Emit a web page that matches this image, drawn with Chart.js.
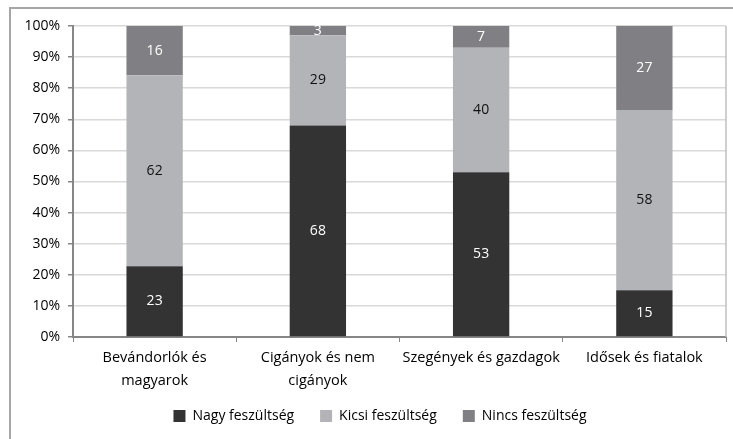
<!DOCTYPE html>
<html>
<head>
<meta charset="utf-8">
<script src="https://cdn.jsdelivr.net/npm/chart.js@4"></script>
<style>
  html, body { margin: 0; padding: 0; background: #fff; }
  #wrap { width: 733px; height: 439px; position: relative; }
</style>
</head>
<body>
<div id="wrap"><canvas id="feszChart"></canvas></div>
<script>
// Categories and values (as printed on the bars)
const categories = [
    ['Bevándorlók és', 'magyarok'],
    ['Cigányok és nem', 'cigányok'],
    'Szegények és gazdagok',
    'Idősek és fiatalok'
];
const nagy = [23, 68, 53, 15];
const kicsi = [62, 29, 40, 58];
const nincs = [16, 3, 7, 27];
const yTicks = [0, 10, 20, 30, 40, 50, 60, 70, 80, 90, 100];

// 100% stacked: each bar is scaled to its own total
const totals = nagy.map((v, i) => v + kicsi[i] + nincs[i]);
const share = arr => arr.map((v, i) => v / totals[i] * 100);

const FONT = '"Open Sans", Lato, sans-serif';

// Outer frame like the spreadsheet chart border, plus right edge of plot area
const framePlugin = {
    id: 'frame',
    afterLayout(chart) {
        // nudge the legend to where it sits in the original
        const lg = chart.legend;
        lg.left += 12;
        lg.right += 12;
        lg.top -= 9;
        lg.bottom -= 9;
    },
    beforeDraw(chart) {
        const ctx = chart.ctx;
        ctx.save();
        ctx.strokeStyle = '#a6a6a6';
        ctx.lineWidth = 2;
        ctx.strokeRect(10, 8, chart.width, chart.height);
        ctx.restore();
    },
    afterDraw(chart) {
        const a = chart.chartArea;
        const ctx = chart.ctx;
        ctx.save();
        ctx.strokeStyle = '#bfbfbf';
        ctx.lineWidth = 1.5;
        ctx.beginPath();
        ctx.moveTo(a.right, a.top);
        ctx.lineTo(a.right, a.bottom);
        ctx.stroke();
        ctx.restore();
    }
};

// Value labels in the middle of each segment
const labelPlugin = {
    id: 'segLabels',
    afterDatasetsDraw(chart) {
        const ctx = chart.ctx;
        ctx.save();
        ctx.font = '14px ' + FONT;
        ctx.textAlign = 'center';
        ctx.textBaseline = 'middle';
        chart.data.datasets.forEach((ds, di) => {
            const meta = chart.getDatasetMeta(di);
            meta.data.forEach((bar, i) => {
                const mid = (bar.y + bar.base) / 2;
                ctx.fillStyle = ds.labelColor;
                ctx.fillText(String(ds.raw[i]), bar.x, mid);
            });
        });
        ctx.restore();
    }
};

const ctx = document.getElementById('feszChart');
new Chart(ctx, {
    type: 'bar',
    data: {
        labels: categories,
        datasets: [{
            label: 'Nagy feszültség',
            data: share(nagy),
            raw: nagy,
            backgroundColor: '#333333',
            labelColor: '#ffffff'
        }, {
            label: 'Kicsi feszültség',
            data: share(kicsi),
            raw: kicsi,
            backgroundColor: '#b3b4b8',
            labelColor: '#111111'
        }, {
            label: 'Nincs feszültség',
            data: share(nincs),
            raw: nincs,
            backgroundColor: '#808084',
            labelColor: '#ffffff'
        }]
    },
    options: {
        responsive: true,
        maintainAspectRatio: false,
        animation: false,
        datasets: {
            bar: {
                categoryPercentage: 1,
                barPercentage: 0.345
            }
        },
        layout: {
            padding: { left: 10, right: 7, top: 26, bottom: -3 }
        },
        scales: {
            x: {
                stacked: true,
                grid: {
                    display: true,
                    drawOnChartArea: false,
                    offset: true,
                    color: '#868686',
                    tickLength: 5
                },
                border: { color: '#868686', width: 2 },
                ticks: {
                    color: '#000',
                    font: { family: FONT, size: 14.5, lineHeight: 1.55 },
                    maxRotation: 0,
                    autoSkip: false,
                    padding: 5
                },
                afterFit(scale) { scale.height = 55; }
            },
            y: {
                stacked: true,
                min: 0,
                max: 100,
                afterBuildTicks(scale) {
                    scale.ticks = yTicks.map(v => ({ value: v }));
                },
                grid: {
                    color: '#d9d9d9',
                    lineWidth: 1.5,
                    tickColor: '#868686',
                    tickLength: 5
                },
                border: { color: '#868686', width: 2 },
                ticks: {
                    color: '#000',
                    font: { family: FONT, size: 14 },
                    padding: 8,
                    callback: v => v + '%'
                },
                afterFit(scale) { scale.width = 63; }
            }
        },
        plugins: {
            legend: {
                position: 'bottom',
                labels: {
                    color: '#000',
                    font: { family: FONT, size: 14 },
                    boxWidth: 12,
                    boxHeight: 12,
                    padding: 26
                }
            },
            tooltip: { enabled: false }
        }
    },
    plugins: [framePlugin, labelPlugin]
});
</script>
</body>
</html>
